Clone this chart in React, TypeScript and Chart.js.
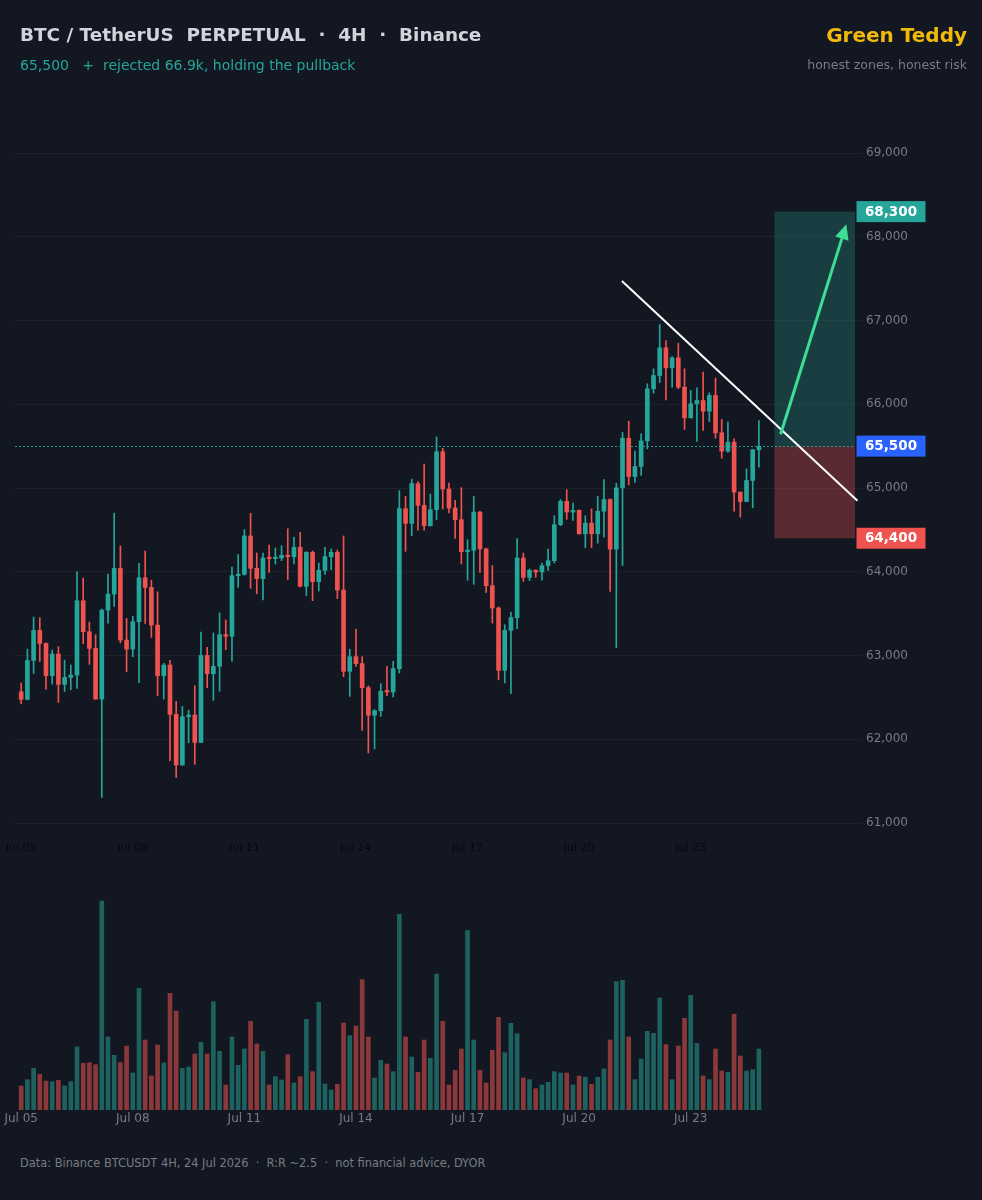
import React, { useEffect, useRef } from "react";
import { Chart, registerables } from "chart.js";

Chart.register(...registerables);

// ---------- data (4H candles, Jul 05 -> Jul 24) ----------
const OPEN = [
  62567, 62476, 62941, 63300, 63144, 62758, 63017, 62655, 62738, 62766,
  63654, 63284, 63085, 62480, 63542, 63733, 64040, 63184, 63077, 63403,
  63928, 63813, 63363, 62758, 62886, 62297, 61692, 62269, 62289, 61962,
  63001, 62782, 62871, 63249, 63229, 63953, 63969, 64427, 64041, 63917,
  64172, 64156, 64164, 64196, 64180, 64292, 63826, 64232, 63882, 64017,
  64180, 64232, 63782, 62811, 62986, 62903, 62616, 62286, 62341, 62580,
  62564, 62843, 64753, 64578, 65052, 64793, 64550, 64741, 65434, 64988,
  64761, 64622, 64240, 64256, 64713, 64272, 63834, 63567, 62823, 63301,
  63452, 64164, 63933, 64017, 63997, 64073, 64132, 64562, 64841, 64713,
  64733, 64453, 64580, 64453, 64723, 64863, 64270, 65002, 65595, 65137,
  65257, 65563, 66184, 66343, 66674, 66435, 66554, 66204, 65838, 66005,
  66045, 65917, 66105, 65659, 65440, 65547, 64950, 64839, 65090, 65456,
];
const HIGH = [
  62671, 63077, 63459, 63451, 63150, 63065, 63105, 62945, 62886, 64000,
  63924, 63399, 63248, 63554, 63972, 64700, 64310, 63443, 63467, 64100,
  64247, 63900, 63761, 62906, 62941, 62452, 62392, 62348, 62639, 63280,
  63097, 63269, 63508, 63424, 64057, 64204, 64503, 64698, 64224, 64224,
  64319, 64284, 64311, 64514, 64411, 64471, 64240, 64248, 64105, 64292,
  64272, 64260, 64427, 63074, 63312, 62986, 62636, 62353, 62664, 62871,
  62930, 64968, 64900, 65107, 65076, 65287, 64928, 65609, 65474, 65060,
  64853, 65004, 64383, 64900, 64720, 64284, 64073, 63580, 63368, 63519,
  64395, 64224, 64033, 64025, 64105, 64272, 64670, 64861, 64980, 64821,
  64739, 64668, 64751, 64899, 65101, 64870, 65058, 65663, 65798, 65440,
  65647, 66244, 66423, 66952, 66761, 66570, 66729, 66423, 66164, 66196,
  66383, 66136, 66311, 65818, 65786, 65587, 64955, 65229, 65460, 65806,
];
const LOW = [
  62424, 62470, 62786, 62929, 62599, 62659, 62440, 62571, 62591, 62607,
  63140, 62894, 62476, 61306, 63387, 63586, 63152, 62806, 62985, 62675,
  63383, 63216, 62519, 62480, 61743, 61544, 61690, 61958, 61700, 61960,
  62615, 62465, 62572, 63070, 62930, 63814, 63960, 63802, 63738, 63663,
  63993, 64093, 64132, 63906, 64093, 63820, 63714, 63655, 63770, 63969,
  64025, 63679, 62747, 62512, 62871, 62106, 61836, 61884, 62274, 62520,
  62505, 62791, 64244, 64431, 64495, 64495, 64545, 64622, 64749, 64701,
  64399, 64093, 63898, 63850, 63993, 63754, 63388, 62712, 62672, 62544,
  63320, 63886, 63894, 63933, 63898, 64017, 64105, 64550, 64626, 64614,
  64450, 64286, 64286, 64341, 64413, 63764, 63092, 64075, 65038, 65066,
  65149, 65468, 66132, 66260, 66053, 66204, 66184, 65699, 65835, 65555,
  65687, 65794, 65595, 65356, 65424, 64723, 64652, 64835, 64763, 65249,
];
const CLOSE = [
  62476, 62941, 63300, 63144, 62758, 63017, 62655, 62738, 62766, 63654,
  63284, 63085, 62480, 63542, 63733, 64040, 63184, 63077, 63403, 63928,
  63813, 63363, 62758, 62886, 62297, 61692, 62269, 62289, 61962, 63001,
  62782, 62871, 63249, 63229, 63953, 63969, 64427, 64041, 63917, 64164,
  64156, 64172, 64196, 64180, 64292, 63826, 64232, 63882, 64017, 64180,
  64232, 63782, 62811, 62986, 62903, 62616, 62286, 62341, 62572, 62564,
  62843, 64753, 64578, 65052, 64793, 64550, 64741, 65434, 64988, 64761,
  64622, 64240, 64256, 64713, 64272, 63834, 63567, 62823, 63301, 63452,
  64164, 63933, 64017, 63997, 64073, 64132, 64562, 64841, 64713, 64733,
  64453, 64580, 64453, 64723, 64863, 64270, 65002, 65595, 65137, 65257,
  65563, 66184, 66343, 66674, 66435, 66554, 66204, 65838, 66005, 66045,
  65917, 66105, 65659, 65440, 65547, 64950, 64839, 65090, 65456, 65496,
];
const VOLUME = [
  288, 364, 500, 428, 348, 340, 356, 288, 340, 756,
  560, 568, 544, 2508, 876, 656, 568, 768, 444, 1460,
  840, 408, 780, 564, 1400, 1188, 500, 516, 672, 812,
  672, 1300, 704, 300, 876, 536, 732, 1064, 792, 704,
  300, 400, 360, 664, 324, 400, 1088, 460, 1292, 312,
  240, 308, 1044, 892, 1008, 1564, 876, 384, 596, 552,
  460, 2348, 876, 636, 452, 840, 620, 1632, 1064, 300,
  476, 732, 2152, 840, 476, 324, 716, 1112, 688, 1040,
  916, 384, 364, 256, 300, 332, 460, 444, 444, 300,
  408, 392, 308, 392, 492, 840, 1540, 1556, 876, 364,
  612, 944, 920, 1344, 784, 364, 768, 1100, 1376, 800,
  408, 364, 732, 468, 452, 1148, 648, 468, 484, 732,
];
const TICK_INDEX = [0, 18, 36, 54, 72, 90, 108];
const TICK_LABELS = ["Jul 05", "Jul 08", "Jul 11", "Jul 14", "Jul 17", "Jul 20", "Jul 23"];

// trade idea
const ENTRY = 65500;
const TARGET = 68300;
const STOP = 64400;
const ZONE_START = 121.5;
const TREND_FROM = { x: 96.9, y: 67472 };
const TREND_TO = { x: 134.9, y: 64848 };
const ARROW_FROM = { x: 122.5, y: 65641 };
const ARROW_TO = { x: 133.1, y: 68149 };

// axis ranges
const X_MIN = -1;
const X_MAX = 134.5;
const PRICE_MIN = 61000;
const PRICE_MAX = 69000;
const PRICE_STEP = 1000;
const VOL_MAX = 2640;

// ---------- styling ----------
const BG = "#131721";
const GREEN = "#26a69a";
const RED = "#ef5350";
const GRID = "rgba(255,255,255,0.045)";
const MUTED = "#787b86";
const FONT = "'DejaVu Sans', sans-serif";

const idx = OPEN.map((_, i) => i);
const isUp = (i: number) => CLOSE[i] >= OPEN[i];
const labelFor = (v: number) => {
  const k = TICK_INDEX.indexOf(Math.round(v));
  return k >= 0 ? TICK_LABELS[k] : "";
};

const overlayPlugin = {
  id: "tradeOverlay",
  beforeDatasetsDraw(chart: any) {
    const { ctx, chartArea, scales } = chart;
    const x = scales.x;
    const y = scales.y;
    const x0 = x.getPixelForValue(ZONE_START);
    const x1 = chartArea.right;
    const yT = y.getPixelForValue(TARGET);
    const yE = y.getPixelForValue(ENTRY);
    const yS = y.getPixelForValue(STOP);
    ctx.save();
    ctx.fillStyle = "rgba(38,166,154,0.28)";
    ctx.fillRect(x0, yT, x1 - x0, yE - yT);
    ctx.fillStyle = "rgba(239,83,80,0.32)";
    ctx.fillRect(x0, yE, x1 - x0, yS - yE);
    ctx.restore();
  },
  afterDatasetsDraw(chart: any) {
    const { ctx, chartArea, scales } = chart;
    const x = scales.x;
    const y = scales.y;
    ctx.save();
    // entry dotted line
    const yE = Math.round(y.getPixelForValue(ENTRY)) + 0.5;
    ctx.strokeStyle = "rgba(38,166,154,0.9)";
    ctx.lineWidth = 1;
    ctx.setLineDash([2, 2]);
    ctx.beginPath();
    ctx.moveTo(chartArea.left, yE);
    ctx.lineTo(chartArea.right, yE);
    ctx.stroke();
    ctx.setLineDash([]);

    // trend line
    ctx.strokeStyle = "#ffffff";
    ctx.lineWidth = 2;
    ctx.beginPath();
    ctx.moveTo(x.getPixelForValue(TREND_FROM.x), y.getPixelForValue(TREND_FROM.y));
    ctx.lineTo(x.getPixelForValue(TREND_TO.x), y.getPixelForValue(TREND_TO.y));
    ctx.stroke();

    // arrow
    const ax0 = x.getPixelForValue(ARROW_FROM.x);
    const ay0 = y.getPixelForValue(ARROW_FROM.y);
    const ax1 = x.getPixelForValue(ARROW_TO.x);
    const ay1 = y.getPixelForValue(ARROW_TO.y);
    const ang = Math.atan2(ay1 - ay0, ax1 - ax0);
    const headLen = 15;
    const headW = 7;
    const bx = ax1 - headLen * Math.cos(ang);
    const by = ay1 - headLen * Math.sin(ang);
    ctx.strokeStyle = "#3ddc97";
    ctx.fillStyle = "#3ddc97";
    ctx.lineWidth = 3;
    ctx.beginPath();
    ctx.moveTo(ax0, ay0);
    ctx.lineTo(bx, by);
    ctx.stroke();
    ctx.beginPath();
    ctx.moveTo(ax1, ay1);
    ctx.lineTo(bx + headW * Math.sin(ang), by - headW * Math.cos(ang));
    ctx.lineTo(bx - headW * Math.sin(ang), by + headW * Math.cos(ang));
    ctx.closePath();
    ctx.fill();

    // price tags
    const tags = [
      { v: TARGET, c: GREEN },
      { v: ENTRY, c: "#2962ff" },
      { v: STOP, c: RED },
    ];
    ctx.font = `bold 13.5px ${FONT}`;
    ctx.textAlign = "center";
    ctx.textBaseline = "middle";
    tags.forEach((t) => {
      const py = y.getPixelForValue(t.v);
      const bxl = chartArea.right + 1.5;
      const w = 69;
      const h = 21;
      ctx.fillStyle = t.c;
      ctx.fillRect(bxl, py - h / 2, w, h);
      ctx.fillStyle = "#ffffff";
      ctx.fillText(t.v.toLocaleString("en-US"), bxl + w / 2, py + 0.5);
    });
    ctx.restore();
  },
};

const xScale = (height: number, color: string, size: number, padding: number) =>
  ({
    type: "linear",
    min: X_MIN,
    max: X_MAX,
    offset: false,
    grid: { display: false, drawTicks: false },
    border: { display: false },
    afterBuildTicks: (s: any) => {
      s.ticks = TICK_INDEX.map((v) => ({ value: v }));
    },
    afterFit: (s: any) => {
      s.height = height;
      s.paddingLeft = 0;
      s.paddingRight = 0;
    },
    ticks: {
      autoSkip: false,
      maxRotation: 0,
      padding,
      color,
      font: { family: FONT, size },
      callback: (v: any) => labelFor(Number(v)),
    },
  } as any);

function PriceChart() {
  const ref = useRef<HTMLCanvasElement>(null);
  useEffect(() => {
    if (!ref.current) return;
    const chart = new Chart(ref.current, {
      type: "bar",
      data: {
        datasets: [
          {
            label: "wick",
            data: idx.map((i) => ({ x: i, y: [LOW[i], HIGH[i]] })) as any,
            backgroundColor: idx.map((i) => (isUp(i) ? GREEN : RED)),
            barThickness: 1,
            grouped: false,
            order: 2,
          } as any,
          {
            label: "body",
            data: idx.map((i) => ({ x: i, y: [OPEN[i], CLOSE[i]] })) as any,
            backgroundColor: idx.map((i) => (isUp(i) ? GREEN : RED)),
            barThickness: 4,
            minBarLength: 1.5,
            grouped: false,
            order: 1,
          } as any,
        ],
      },
      options: {
        animation: false,
        responsive: false,
        maintainAspectRatio: false,
        layout: { padding: { left: 15, top: 153, right: 0, bottom: 0 } },
        plugins: { legend: { display: false }, tooltip: { enabled: false } },
        scales: {
          x: xScale(57, "#07090d", 11, 19),
          y: {
            position: "right",
            min: PRICE_MIN,
            max: PRICE_MAX,
            grid: { color: GRID, drawTicks: true, tickLength: 8 },
            border: { display: false },
            afterFit: (s: any) => {
              s.width = 127;
              s.paddingTop = 0;
              s.paddingBottom = 0;
            },
            ticks: {
              stepSize: PRICE_STEP,
              padding: 3,
              color: MUTED,
              font: { family: FONT, size: 12 },
              callback: (v: any) => Number(v).toLocaleString("en-US"),
            },
          } as any,
        },
      },
      plugins: [overlayPlugin],
    });
    return () => chart.destroy();
  }, []);
  return (
    <canvas
      ref={ref}
      width={982}
      height={880}
      style={{ position: "absolute", left: 0, top: 0, width: 982, height: 880 }}
    />
  );
}

function VolumeChart() {
  const ref = useRef<HTMLCanvasElement>(null);
  useEffect(() => {
    if (!ref.current) return;
    const chart = new Chart(ref.current, {
      type: "bar",
      data: {
        datasets: [
          {
            label: "volume",
            data: idx.map((i) => ({ x: i, y: VOLUME[i] })) as any,
            backgroundColor: idx.map((i) =>
              isUp(i) ? "rgba(38,166,154,0.52)" : "rgba(239,83,80,0.55)"
            ),
            barThickness: 4,
          } as any,
        ],
      },
      options: {
        animation: false,
        responsive: false,
        maintainAspectRatio: false,
        layout: { padding: { left: 15, top: 10, right: 127, bottom: 0 } },
        plugins: { legend: { display: false }, tooltip: { enabled: false } },
        scales: {
          x: xScale(30, MUTED, 12, 2),
          y: { display: false, min: 0, max: VOL_MAX },
        },
      },
    });
    return () => chart.destroy();
  }, []);
  return (
    <canvas
      ref={ref}
      width={982}
      height={260}
      style={{ position: "absolute", left: 0, top: 880, width: 982, height: 260 }}
    />
  );
}

export default function App() {
  const txt = (extra: React.CSSProperties): React.CSSProperties => ({
    position: "absolute",
    whiteSpace: "pre",
    fontFamily: FONT,
    zIndex: 2,
    ...extra,
  });
  return (
    <div
      style={{
        position: "fixed",
        left: 0,
        top: 0,
        width: 982,
        height: 1200,
        background: BG,
        overflow: "hidden",
      }}
    >
      <PriceChart />
      <VolumeChart />
      <div
        style={txt({
          left: 20,
          top: 26.2,
          fontSize: 18.4,
          lineHeight: "18.4px",
          fontWeight: "bold",
          color: "#d1d4dc",
        })}
      >
        {"BTC / TetherUS  PERPETUAL  ·  4H  ·  Binance"}
      </div>
      <div
        style={txt({
          left: 20,
          top: 57.5,
          fontSize: 14,
          lineHeight: "14px",
          color: GREEN,
        })}
      >
        {"65,500   +  rejected 66.9k, holding the pullback"}
      </div>
      <div
        style={txt({
          right: 15,
          top: 25.4,
          fontSize: 20,
          lineHeight: "20px",
          fontWeight: "bold",
          color: "#f0b90b",
        })}
      >
        Green Teddy
      </div>
      <div
        style={txt({
          right: 15,
          top: 58.7,
          fontSize: 12.5,
          lineHeight: "12.5px",
          color: MUTED,
        })}
      >
        honest zones, honest risk
      </div>
      <div
        style={txt({
          left: 20,
          top: 1157.7,
          fontSize: 11.4,
          lineHeight: "11.4px",
          color: MUTED,
        })}
      >
        {"Data: Binance BTCUSDT 4H, 24 Jul 2026  ·  R:R ~2.5  ·  not financial advice, DYOR"}
      </div>
    </div>
  );
}
